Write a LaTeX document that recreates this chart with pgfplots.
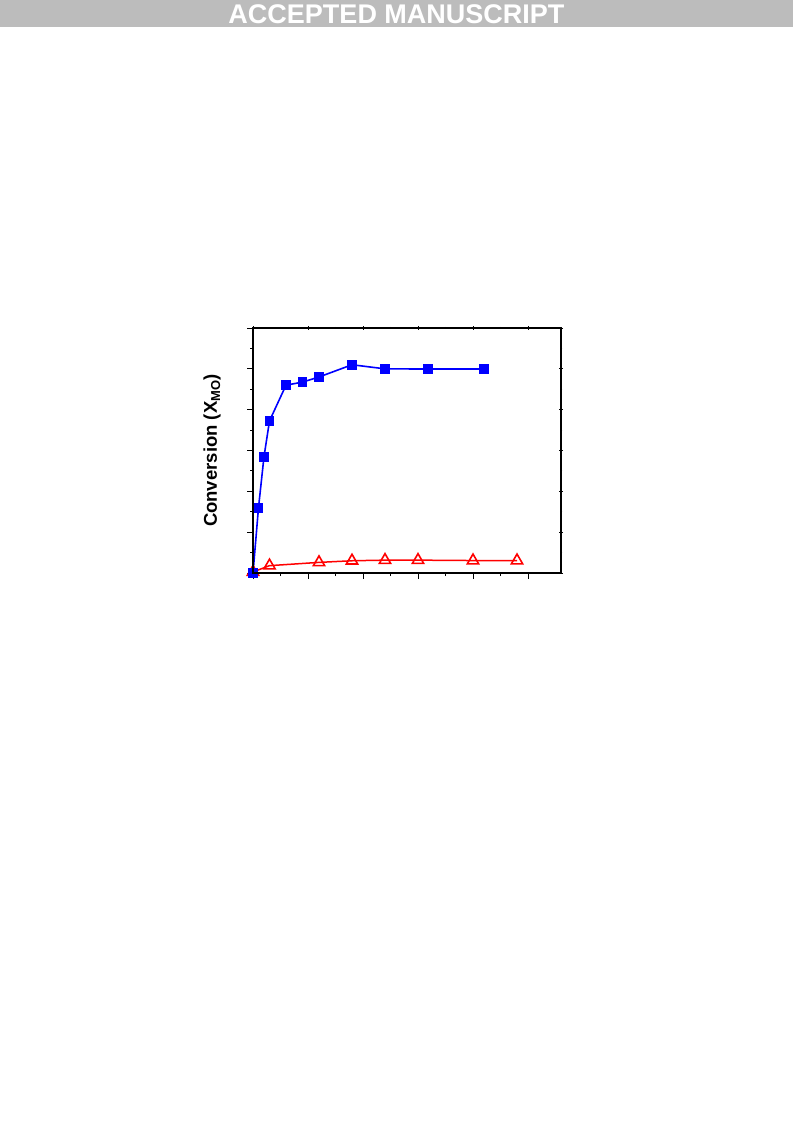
\documentclass[border=0pt]{standalone}
\usepackage{pgfplots}
\pgfplotsset{compat=1.18}
\usepackage{fontspec}
\setmainfont{Liberation Sans}
\definecolor{bannergray}{RGB}{188,188,188}
\definecolor{pblue}{RGB}{0,0,255}
\definecolor{pred}{RGB}{255,0,0}
\begin{document}
\begin{tikzpicture}[x=1pt,y=1pt]
\path[use as bounding box,fill=white] (0,0) rectangle (793,-1123);
\fill[bannergray] (0,0) rectangle (793,-27);
\node[anchor=base,text=white,font=\fontsize{27}{30}\selectfont\bfseries,inner sep=0pt] at (396.5,-24) {ACCEPTED MANUSCRIPT};
\begin{axis}[
  at={(253pt,-573pt)}, anchor=south west,
  scale only axis, width=308pt, height=245pt,
  xmin=0, xmax=112, ymin=0, ymax=1.2,
  xtick={0,20,40,60,80,100}, minor x tick num=1,
  ytick={0,0.2,0.4,0.6,0.8,1.0,1.2}, minor y tick num=1,
  xticklabels={}, yticklabels={},
  xtick pos=left, ytick pos=left,
  tick align=outside,
  major tick length=6pt, minor tick length=3pt,
  axis line style={line width=1.1pt},
  every tick/.style={black, line width=1pt},
  clip=false,
  ylabel={Conversion (X\textsubscript{MO})},
  ylabel style={at={(axis description cs:-0.117,0.5)}, anchor=base, font=\fontsize{18.5}{22}\selectfont\bfseries},
]
\addplot[color=pred, line width=1.5pt, mark=triangle, mark size=6.5pt, mark options={line width=1.6pt, solid, fill=white}]
  coordinates {(0,0.005) (6,0.036) (24,0.052) (36,0.060) (48,0.063) (60,0.063) (80,0.061) (96,0.061)};
\addplot[color=pblue, line width=1.6pt, mark=square*, mark size=4.1pt, mark options={solid, fill=pblue}]
  coordinates {(0,0) (2,0.32) (4,0.57) (6,0.745) (12,0.92) (18,0.935) (24,0.96) (36,1.02) (48,1.0) (63.6,0.999) (84,0.999)};
\end{axis}
\begin{axis}[
  at={(253pt,-573pt)}, anchor=south west,
  scale only axis, width=308pt, height=245pt,
  xmin=0, xmax=112, ymin=0, ymax=1.2,
  xtick={0,20,40,60,80,100}, minor x tick num=1,
  ytick={0,0.2,0.4,0.6,0.8,1.0,1.2}, minor y tick num=1,
  xticklabels={}, yticklabels={},
  xtick pos=right, ytick pos=right,
  tick align=center,
  major tick length=4pt, minor tick length=2.5pt,
  axis line style={line width=1.1pt},
  every tick/.style={black, line width=1pt},
]
\end{axis}
\end{tikzpicture}
\end{document}
